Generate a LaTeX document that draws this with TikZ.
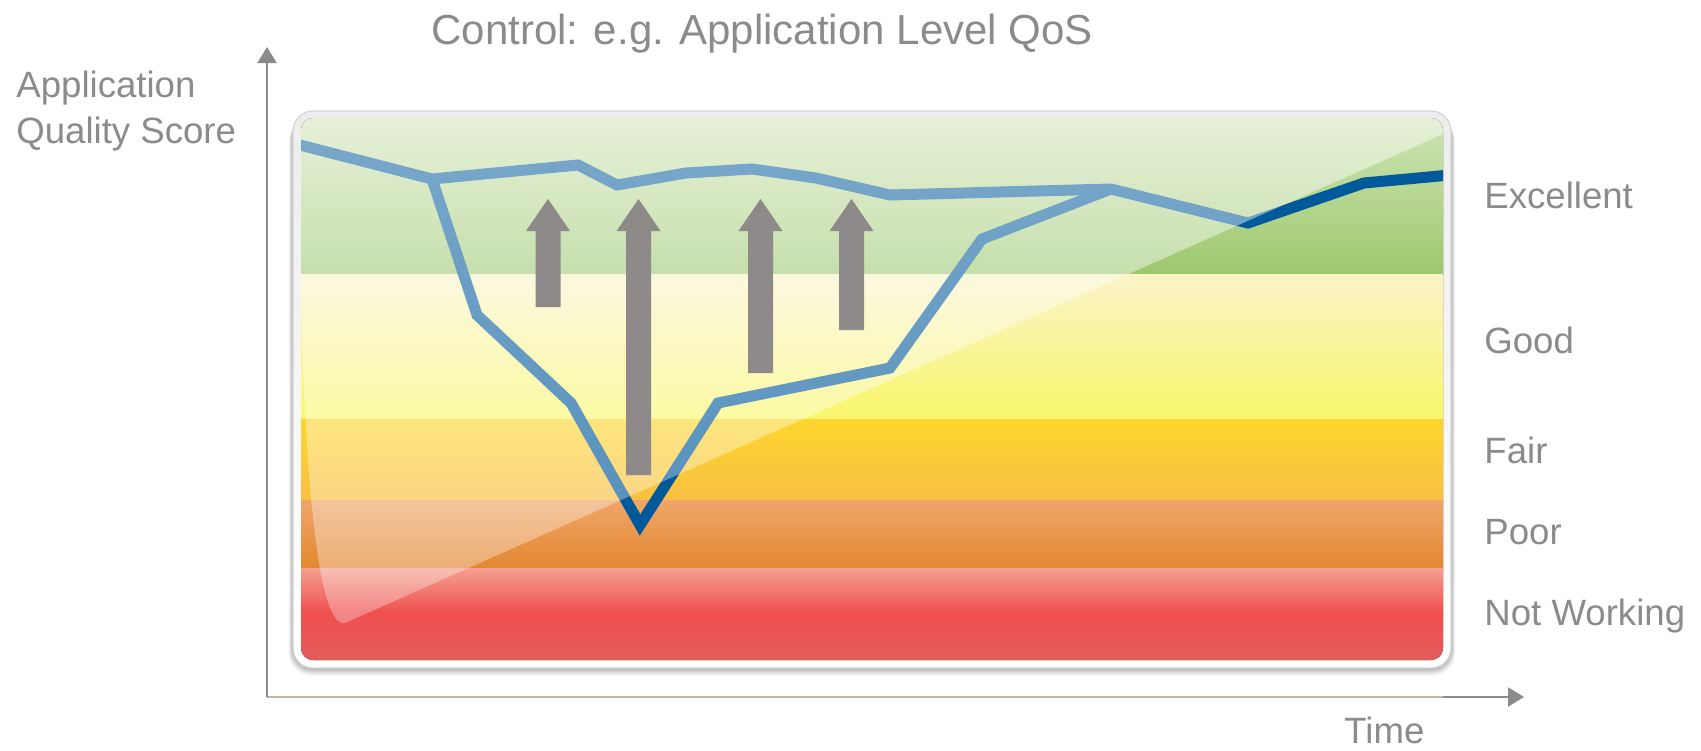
\documentclass[tikz,border=0pt]{standalone}
\usepackage{fontspec}
\setmainfont{Liberation Sans}
\usetikzlibrary{arrows.meta,fadings}

\definecolor{txtgray}{HTML}{8C8A8A}
\definecolor{axisgray}{HTML}{8C8A8A}
\definecolor{axistan}{HTML}{C2B6A2}
\definecolor{arrowgray}{HTML}{8E8A8A}
\definecolor{qosblue}{HTML}{00599B}
\definecolor{frameline}{HTML}{D4D4D4}

\tikzfading[name=glossfade, top color=transparent!52, bottom color=transparent!70]

\tikzset{
  label/.style={anchor=base west, inner sep=0pt, text=txtgray,
                font=\fontsize{18.3}{22}\selectfont},
  title/.style={anchor=base west, inner sep=0pt, text=txtgray,
                font=\fontsize{21}{25}\selectfont},
  axis/.style={draw=axisgray, line width=1pt,
               -{Triangle[length=8pt,width=9.5pt]}},
  qosline/.style={draw=qosblue, line width=5.5pt, line join=miter, miter limit=6},
  uparrow/.style={fill=arrowgray},
}

% block arrow pointing up: centre x, tip y, bottom y
\newcommand{\uparrowshape}[3]{%
  \fill[uparrow] (#1,#2) -- (#1-22,#2+32) -- (#1-12.5,#2+32) -- (#1-12.5,#3)
    -- (#1+12.5,#3) -- (#1+12.5,#2+32) -- (#1+22,#2+32) -- cycle;}

\begin{document}
\begin{tikzpicture}[x=0.5pt, y=-0.5pt]
\useasboundingbox (0,0) rectangle (1701,750);

% ---- titles and labels
\node[title] (ttl) at (431,44) {Control: e.g. Application Level QoS};
\node[label] (ylab1) at (16,97) {Application};
\node[label] (ylab2) at (16,143) {Quality Score};
\node[label] (lexc) at (1484,208) {Excellent};
\node[label] (lgood) at (1484,353) {Good};
\node[label] (lfair) at (1484,463) {Fair};
\node[label] (lpoor) at (1484,544) {Poor};
\node[label] (lnw) at (1484,625) {Not Working};
\node[label] (ltime) at (1344,743) {Time};

% ---- axes
\coordinate (origin) at (267,697);
\coordinate (ytip) at (267,47);
\coordinate (xtip) at (1524,697);
\draw[axis] (origin) -- (ytip);
\draw[axis] (origin) -- (xtip);
\draw[axistan, line width=0.8pt] (268,697) -- (1443,697);

% ---- soft shadow under the frame
\foreach \i/\o in {1/0.05,2/0.05,3/0.05,4/0.05,5/0.05,6/0.04,7/0.03} {
  \fill[black, opacity=\o, rounded corners=11pt]
    (293-\i*0.6,113+\i) rectangle (1451+\i*0.6,668+\i*1.1);
}

% ---- outer frame
\draw[frameline, line width=0.6pt, top color=gray!14, bottom color=white,
      rounded corners=10pt] (293,111) rectangle (1451,668);

% ---- chart area
\begin{scope}
  \clip[rounded corners=6pt] (301,118) rectangle (1443,660);

  % quality bands
  \fill[top color={rgb,255:red,208;green,228;blue,180},
        bottom color={rgb,255:red,156;green,200;blue,110}]
       (300,117) rectangle (1444,274.5);
  \fill[top color={rgb,255:red,250;green,243;blue,200},
        bottom color={rgb,255:red,249;green,247;blue,108}]
       (300,274) rectangle (1444,419.5);
  \fill[top color={rgb,255:red,252;green,214;blue,46},
        bottom color={rgb,255:red,249;green,192;blue,68}]
       (300,419) rectangle (1444,500.5);
  \fill[top color={rgb,255:red,240;green,166;blue,106},
        bottom color={rgb,255:red,226;green,136;blue,48}]
       (300,500) rectangle (1444,568.5);
  \fill[top color={rgb,255:red,245;green,160;blue,144},
        bottom color={rgb,255:red,240;green,80;blue,80}]
       (300,568) rectangle (1444,612.5);
  \fill[top color={rgb,255:red,240;green,80;blue,80},
        bottom color={rgb,255:red,226;green,92;blue,92}]
       (300,612) rectangle (1444,661);

  % quality score over time
  \coordinate (p0) at (296,144);
  \coordinate (p1) at (432,179);
  \coordinate (p2) at (578,165);
  \coordinate (p3) at (617,185);
  \coordinate (p4) at (686,173);
  \coordinate (p5) at (752,169);
  \coordinate (p6) at (816,178);
  \coordinate (p7) at (890,195);
  \coordinate (p8) at (1111,189);
  \coordinate (p9) at (1248,223);
  \coordinate (p10) at (1364,183);
  \coordinate (p11) at (1450,175);
  \coordinate (q1) at (477,315);
  \coordinate (q2) at (571,403);
  \coordinate (q3) at (640,525);
  \coordinate (q4) at (718,403);
  \coordinate (q5) at (890,368);
  \coordinate (q6) at (982,239);
  \draw[qosline] (p0) -- (p1) -- (p2) -- (p3) -- (p4) -- (p5) -- (p6)
                 -- (p7) -- (p8) -- (p9) -- (p10) -- (p11);
  \draw[qosline] (p1) -- (q1) -- (q2) -- (q3) -- (q4) -- (q5) -- (q6) -- (p8);

  % glossy highlight
  \fill[white, path fading=glossfade]
    (300,117) -- (1445,117) -- (1445,133) -- (345,623)
    .. controls (318,628) and (304,480) .. (300,250) -- cycle;

  % control actions
  \uparrowshape{548}{199}{307}
  \uparrowshape{638.5}{199}{475}
  \uparrowshape{760.5}{199}{373}
  \uparrowshape{851.5}{199}{330}
\end{scope}

\end{tikzpicture}
\end{document}
